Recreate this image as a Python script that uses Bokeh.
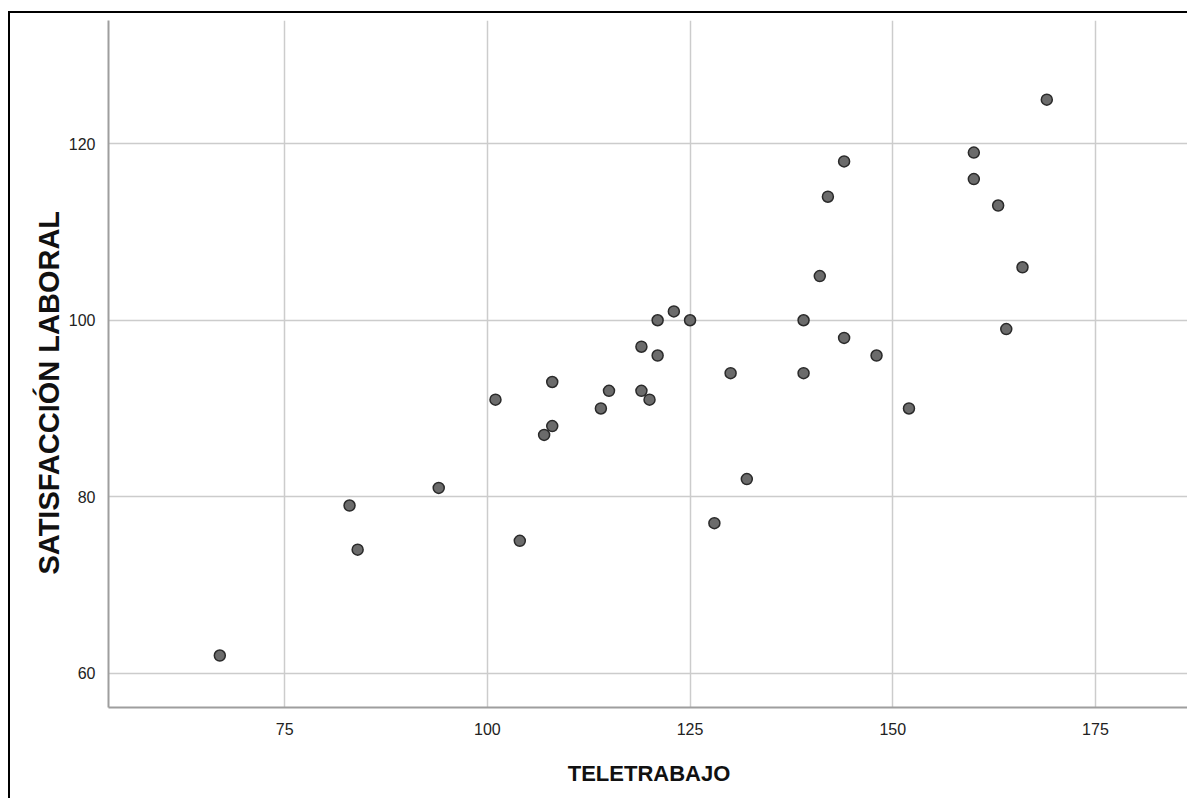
from bokeh.plotting import figure
from bokeh.models import Range1d, FixedTicker, Title
from bokeh.embed import file_html
from bokeh.resources import INLINE

# Data
teletrabajo = [67, 83, 84, 94, 101, 104, 107, 108, 108, 114, 115, 119, 119, 120,
               121, 121, 123, 125, 128, 130, 132, 139, 139, 141, 142, 144, 144,
               148, 152, 160, 160, 163, 164, 166, 169]
satisfaccion = [62, 79, 74, 81, 91, 75, 87, 88, 93, 90, 92, 97, 92, 91,
                100, 96, 101, 100, 77, 94, 82, 100, 94, 105, 114, 118, 98,
                96, 90, 119, 116, 113, 99, 106, 125]
x_ticks = [75, 100, 125, 150, 175]
y_ticks = [60, 80, 100, 120]
x_label = "TELETRABAJO"
y_label = "SATISFACCIÓN LABORAL"

FONT = "Liberation Sans"

p = figure(width=1179, height=787, output_backend="svg", toolbar_location=None,
           x_range=Range1d(53.27, 186.6), y_range=Range1d(56.11, 133.97),
           min_border_left=98, min_border_top=7, min_border_bottom=93,
           min_border_right=0, background_fill_color="white",
           border_fill_color="white",
           styles={"margin-left": "8px", "margin-top": "11px",
                   "border-left": "2px solid black",
                   "border-top": "2px solid black"})
p.outline_line_color = None

p.scatter(teletrabajo, satisfaccion, size=11, marker="circle",
          fill_color="#6b6b6b", line_color="#2a2a2a", line_width=1.5)

for ax in (p.xaxis, p.yaxis):
    ax.axis_line_color = "#9e9e9e"
    ax.axis_line_width = 2
    ax.major_tick_line_color = None
    ax.minor_tick_line_color = None
    ax.major_label_text_font = FONT
    ax.major_label_text_font_size = "16px"
    ax.major_label_text_color = "#222222"
    ax.axis_label_text_font = FONT
    ax.axis_label_text_font_style = "bold"
    ax.axis_label_text_color = "#111111"

p.xaxis.ticker = FixedTicker(ticks=x_ticks)
p.yaxis.ticker = FixedTicker(ticks=y_ticks)
p.xaxis.major_label_standoff = 9
p.yaxis.major_label_standoff = 7
p.xaxis.axis_label = x_label
p.xaxis.axis_label_text_font_size = "22px"
p.xaxis.axis_label_standoff = 23

# y-axis title, placed slightly below the frame centre as in the reference
p.add_layout(Title(text=y_label, align="left", offset=133, standoff=2,
                   text_font=FONT, text_font_style="bold",
                   text_font_size="29px", text_color="#111111"), "left")

p.xgrid.grid_line_color = "#cccccc"
p.ygrid.grid_line_color = "#cccccc"
p.xgrid.grid_line_width = 1.5
p.ygrid.grid_line_width = 1.5

open("out.html", "w").write(file_html(p, INLINE))
